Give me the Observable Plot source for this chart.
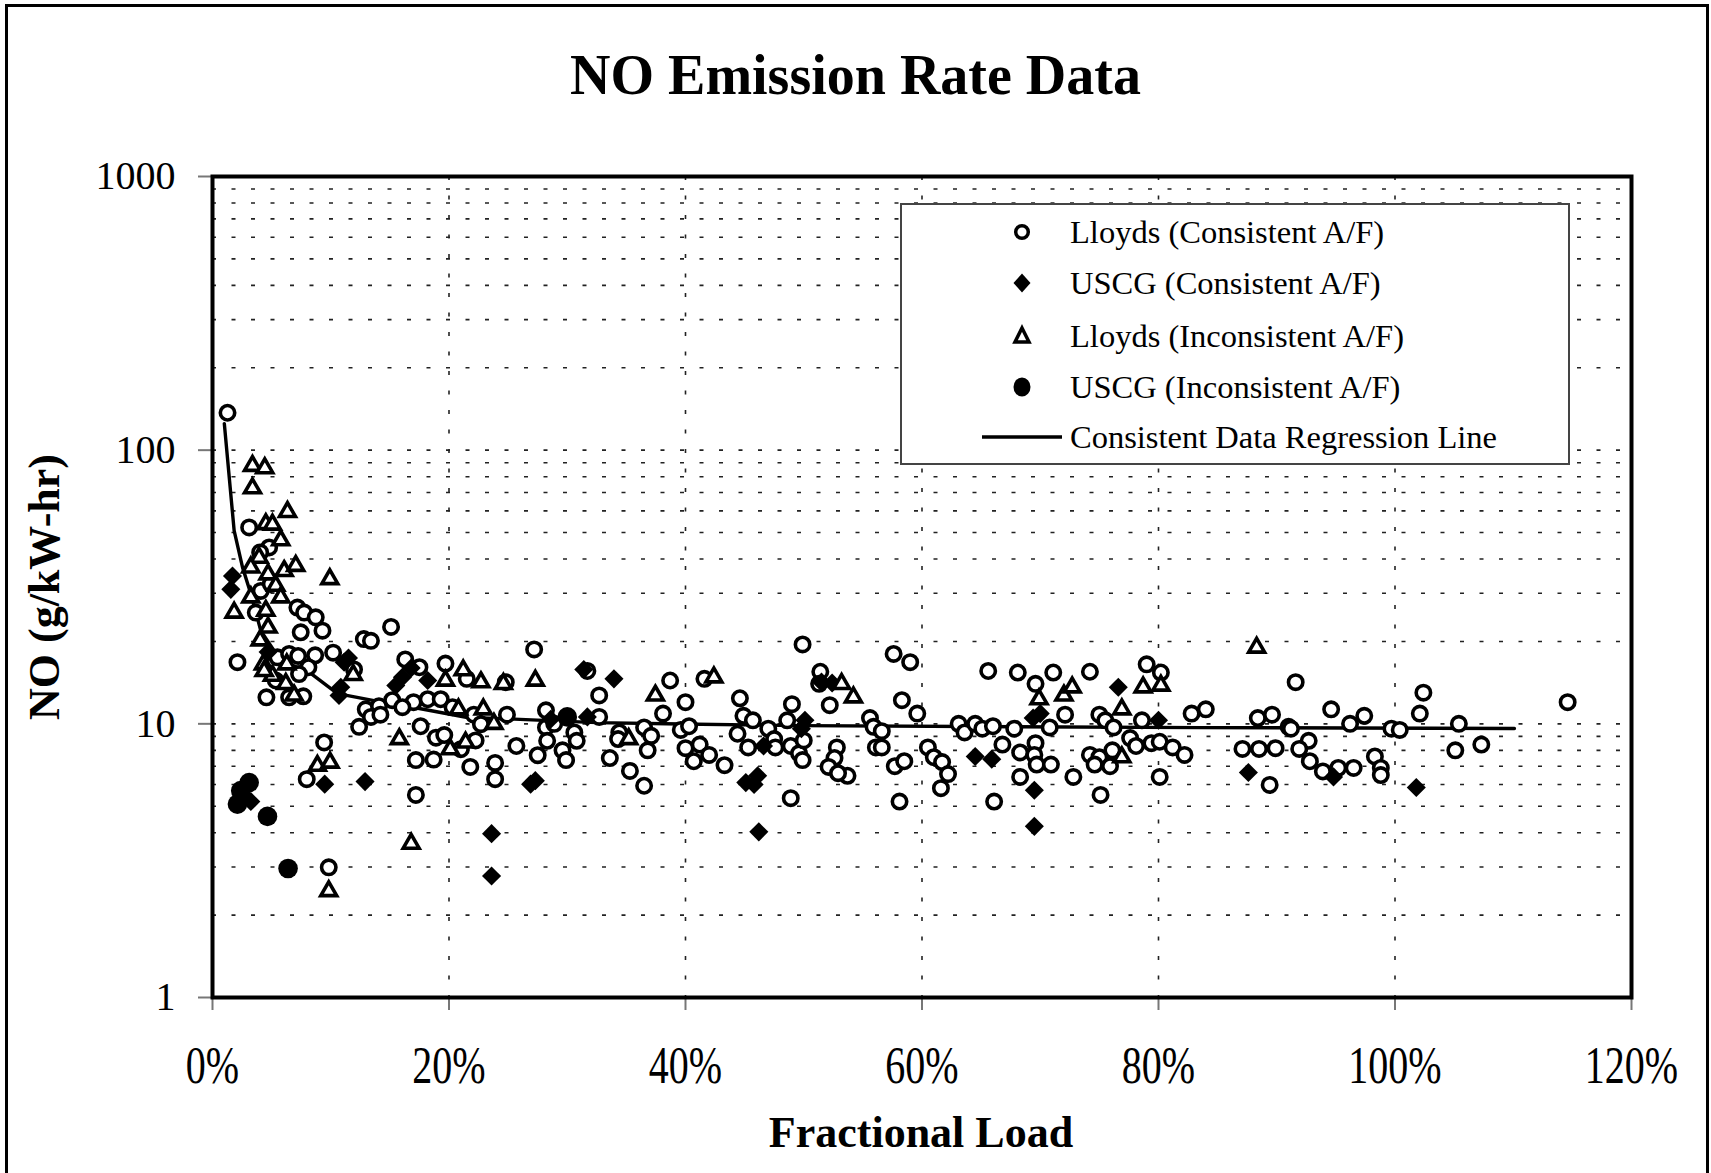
<!DOCTYPE html>
<html>
<head>
<meta charset="utf-8">
<script src="https://cdn.jsdelivr.net/npm/d3@7"></script>
<script src="https://cdn.jsdelivr.net/npm/@observablehq/plot@0.6"></script>
<style>
html, body { margin: 0; padding: 0; background: #fff; overflow: hidden; width: 1711px; height: 1173px; }
#frame { position: absolute; left: 5px; top: 4px; width: 1704px; height: 1220px; border: 3.5px solid #000; box-sizing: border-box; }
#title { position: absolute; left: 0; top: 47px; width: 1711px; text-align: center; font: bold 56px/57px "Liberation Serif", "Times New Roman", serif; color: #000; }
#chart { position: absolute; left: 0; top: 130px; }
#xlabel { position: absolute; left: 521px; top: 1111px; width: 800px; text-align: center; font: bold 44px/44px "Liberation Serif", "Times New Roman", serif; color: #000; }
#ylabel { position: absolute; left: -155px; top: 565px; width: 400px; height: 44px; text-align: center; font: bold 44px/44px "Liberation Serif", "Times New Roman", serif; color: #000; transform: rotate(-90deg); transform-origin: 50% 50%; }
#legend { position: absolute; left: 900px; top: 203px; width: 670px; height: 262px; box-sizing: border-box; border: 2px solid #444; background: #fff; }
#legend svg { position: absolute; left: -2px; top: -2px; }
</style>
</head>
<body>
<div id="frame"></div>
<div id="title">NO Emission Rate Data</div>
<div id="chart"></div>
<div id="xlabel">Fractional Load</div>
<div id="ylabel">NO (g/kW-hr)</div>
<div id="legend"></div>
<script>
// ---- Data: [fractional load (%), NO (g/kW-hr)] ----
const lloydsConsistent = [
  [1.27,137],[3.1,52.2],[4.79,44.1],[4.03,42.3],
  [4.08,30.6],[4.93,32.4],[3.66,25.5],[7.18,26.6],[7.75,25.5],[8.73,24.5],[9.3,21.9],[7.46,21.6],
  [12.8,20.4],[13.4,20.1],[15.1,22.6],[2.11,16.8],[5.49,17.5],[6.48,18.0],[7.24,17.7],[8.68,17.8],
  [8.11,16.1],[7.32,15.2],[5.35,14.4],[4.56,12.5],[6.48,12.5],[7.68,12.6],[10.2,18.2],[11.97,15.8],
  [12.96,11.3],[14.08,11.6],[13.4,10.6],[14.2,10.8],[12.4,9.75],[16.3,17.2],[17.5,16.1],[15.2,12.2],
  [17.0,12.0],[18.2,12.3],[19.3,12.3],[16.06,11.5],[19.7,16.6],[21.5,14.6],[24.8,14.2],[27.2,18.7],
  [20.3,11.5],[22.1,10.8],[22.7,9.97],[24.9,10.8],[17.6,9.8],[18.9,8.9],[19.6,9.1],[22.25,8.7],
  [21.0,8.08],[17.2,7.37],[18.7,7.4],[21.8,6.96],[23.9,7.2],[23.9,6.28],[25.7,8.3],[27.5,7.68],
  [28.2,11.2],[28.2,9.7],[28.3,8.67],[28.9,10.0],[29.6,8.0],[29.9,7.37],[30.6,9.3],[30.8,8.67],
  [31.7,15.6],[32.7,12.7],[32.7,10.6],[9.44,8.55],[7.97,6.28],[17.2,5.5],[9.83,2.99],
  [34.4,9.3],[34.3,8.8],[33.6,7.5],[35.3,6.73],[36.5,5.94],[36.5,9.7],[37.1,9.04],[36.8,8.0],
  [38.1,10.9],[38.7,14.4],[40.0,12.0],[39.6,9.5],[40.3,9.8],[40.0,8.15],[41.2,8.4],[40.7,7.3],
  [42.0,7.7],[43.3,7.06],[41.6,14.6],[44.6,12.4],[44.9,10.7],[45.7,10.3],[44.4,9.2],[45.3,8.2],
  [47.0,9.6],[47.5,8.8],[47.6,8.2],[48.9,5.35],[49.0,11.8],[48.6,10.3],[48.9,8.3],[49.6,7.8],
  [49.9,7.37],[50.0,8.7],[49.9,19.5],[51.4,15.5],[51.3,14.0],[52.2,11.7],[52.8,8.2],[52.6,7.5],
  [52.1,6.96],[53.7,6.46],[52.9,6.6],[55.6,10.5],[55.9,9.75],[56.6,9.4],[56.1,8.2],[56.6,8.2],
  [57.7,7.0],[58.5,7.3],[58.1,5.2],[57.6,18.0],[59.0,16.8],[58.3,12.2],[59.6,10.9],[60.5,8.2],
  [61.0,7.55],[61.7,7.25],[62.2,6.55],[61.6,5.82],[63.1,10.0],[63.6,9.3],[64.5,10.0],[65.1,9.6],
  [66.0,9.8],[65.6,15.6],[66.8,8.4],[66.1,5.2],[67.8,9.6],[68.1,15.4],[68.3,7.86],[68.3,6.4],
  [69.6,14.0],[69.6,8.5],[69.5,7.7],[69.7,7.1],[70.9,7.1],[70.8,9.7],[71.1,15.4],[72.1,10.8],
  [72.8,6.4],[74.2,15.5],[75.0,10.8],[75.5,10.3],[76.2,9.7],[74.2,7.7],[75.0,7.55],[74.6,7.1],
  [75.9,7.0],[76.1,8.0],[75.1,5.5],[77.6,8.87],[78.1,8.3],[78.6,10.3],[79.0,16.5],[79.4,8.5],
  [80.1,8.6],[80.1,6.4],[80.2,15.4],[81.2,8.2],[82.2,7.7],[82.8,10.9],
  [84.0,11.3],[91.6,14.2],[88.4,10.5],[89.6,10.8],[87.1,8.1],[88.5,8.1],[89.9,8.15],[89.4,5.98],
  [91.0,9.75],[91.2,9.6],[92.7,8.67],[91.9,8.1],[92.8,7.3],[93.9,6.7],[95.2,6.9],[96.5,6.9],
  [94.6,11.3],[96.2,10.0],[97.4,10.7],[98.3,7.6],[98.8,6.9],[98.8,6.5],[99.7,9.6],[100.4,9.5],
  [102.1,10.9],[102.4,13.0],[105.4,10.0],[105.1,8.0],[107.3,8.4],[114.6,12.0]
];
const uscgConsistent = [
  [1.69,34.7],[1.55,31.0],[3.24,5.2],[4.7,18.3],[11.13,16.8],[11.5,17.4],[10.85,13.6],[10.7,12.7],
  [16.06,14.8],[15.5,13.8],[16.8,16.0],[18.2,14.4],[9.49,6.02],[12.9,6.15],[23.6,3.97],[23.6,2.78],
  [26.9,6.02],[27.3,6.2],[28.6,10.4],[31.7,10.6],[31.4,15.8],[33.95,14.6],[46.6,8.3],[45.1,6.1],
  [46.1,6.46],[45.8,6.0],[46.2,4.03],[50.1,10.3],[49.8,9.6],[51.5,14.2],[52.4,14.1],[64.5,7.6],
  [65.9,7.43],[69.4,10.5],[70.0,10.9],[69.5,5.72],[69.5,4.22],[76.6,13.6],[80.0,10.3],[87.6,6.64],
  [94.8,6.4],[101.8,5.85]
];
const lloydsInconsistent = [
  [3.38,87.7],[4.42,86],[3.38,72.6],[6.34,59.5],[4.51,53.7],[5.07,53.5],[5.77,46.9],[3.94,40.5],
  [3.24,37.3],[4.7,35.2],[6.06,36.2],[7.04,37.8],[5.35,32],[3.24,29],[5.77,29],[9.92,33.8],
  [1.83,25.5],[4.51,25.9],[4.7,22.5],[4.03,20.2],[4.31,16.5],[6.28,16.5],[5.07,15.0],[4.37,15.6],
  [6.2,14.0],[6.9,12.7],[11.9,15.1],[8.87,7.03],[9.94,7.22],[9.83,2.45],[16.8,3.65],[15.8,8.8],
  [19.7,14.4],[21.2,15.7],[22.7,14.2],[24.6,14.0],[27.3,14.4],[20.8,11.3],[22.9,11.3],[23.8,10.0],
  [21.4,8.55],[20.1,8.08],[35.2,8.8],[37.45,12.7],[42.4,14.8],[53.2,14.0],[54.2,12.5],[69.9,12.3],
  [72.0,12.7],[72.7,13.6],[76.9,11.3],[76.9,7.55],[78.7,13.6],[80.2,13.8],[88.3,19.0]
];
const uscgInconsistent = [
  [3.1,6.1],[2.39,5.7],[2.11,5.09],[4.65,4.59],[6.39,2.96],[30.0,10.6]
];
const regressionLoad = [1.0, 1.83, 2.54, 3.24, 4.08, 5.77, 8.03, 10.57, 13.66, 17.04, 21.56, 25.5, 32.5, 39.6, 49.7, 83.6, 110.1];
const regressionNO   = [125, 50.8, 37.3, 29.9, 21.9, 17.0, 15.6, 12.9, 12.15, 11.47, 10.55, 10.4, 10.1, 9.99, 9.85, 9.69, 9.61];

const xTicks = [0, 20, 40, 60, 80, 100, 120];
const yTicks = [1, 10, 100, 1000];
const xGrid = [20, 40, 60, 80, 100];
const yGrid = [2,3,4,5,6,7,8,9,10,20,30,40,50,60,70,80,90,100,200,300,400,500,600,700,800,900];

const legendItems = [
  "Lloyds (Consistent A/F)",
  "USCG (Consistent A/F)",
  "Lloyds (Inconsistent A/F)",
  "USCG (Inconsistent A/F)",
  "Consistent Data Regression Line"
];

const toRows = arr => arr.map(([load, no]) => ({load, no}));
const regression = regressionLoad.map((load, i) => ({load, no: regressionNO[i]}));

const chart = Plot.plot({
  width: 1711,
  height: 1043,
  marginLeft: 212,
  marginRight: 80,
  marginTop: 46,
  marginBottom: 176,
  style: {fontFamily: "'Liberation Serif','Times New Roman',serif", fontSize: "40px", color: "#000", background: "transparent"},
  x: {domain: [0, 120], ticks: xTicks, tickFormat: d => d + "%", tickSize: 13, tickPadding: 44, label: null},
  y: {type: "log", domain: [1, 1000], ticks: yTicks, tickFormat: d => String(d), tickSize: 14, tickPadding: 23, label: null},
  marks: [
    Plot.ruleY(yGrid, {stroke: "#222", strokeWidth: 1.6, strokeDasharray: "4,15.5"}),
    Plot.ruleX(xGrid, {stroke: "#222", strokeWidth: 1.6, strokeDasharray: "4,15.5"}),
    Plot.line(regression, {x: "load", y: "no", stroke: "#000", strokeWidth: 3.4}),
    Plot.dot(toRows(lloydsConsistent), {x: "load", y: "no", symbol: "circle", r: 7.2, fill: "#fff", stroke: "#000", strokeWidth: 3.6}),
    Plot.dot(toRows(uscgConsistent), {x: "load", y: "no", symbol: "diamond2", r: 8.6, fill: "#000"}),
    Plot.dot(toRows(lloydsInconsistent), {x: "load", y: "no", symbol: "triangle", r: 5.9, fill: "#fff", stroke: "#000", strokeWidth: 3.6}),
    Plot.dot(toRows(uscgInconsistent), {x: "load", y: "no", symbol: "circle", r: 9.8, fill: "#000"}),
    Plot.frame({stroke: "#000", strokeWidth: 4})
  ]
});
document.getElementById("chart").appendChild(chart);

// axis tick line colour
chart.querySelectorAll('g[aria-label^="x-axis"] line, g[aria-label^="y-axis"] line, g[aria-label^="x-axis"] path, g[aria-label^="y-axis"] path').forEach(el => {
  el.setAttribute("stroke", "#777");
  el.setAttribute("stroke-width", "2");
});
// x tick labels are drawn tall in the reference: stretch vertically about the baseline
chart.querySelectorAll('g[aria-label^="x-axis"] text').forEach(t => {
  const b = t.getBBox();
  const base = b.y + b.height - 0.216 * 40;
  const tr = t.getAttribute("transform") || "";
  t.setAttribute("transform", `${tr} translate(0,${base}) scale(1,1.3) translate(0,${-base})`);
});

// legend
const ns = "http://www.w3.org/2000/svg";
const lg = d3.select("#legend").append("svg").attr("xmlns", ns).attr("width", 670).attr("height", 262);
const rowsY = [29, 80, 133, 184, 234];
const sx = 122;
lg.append("circle").attr("cx", sx).attr("cy", rowsY[0]).attr("r", 6.3).attr("fill", "#fff").attr("stroke", "#000").attr("stroke-width", 3.5);
lg.append("path").attr("d", `M${sx},${rowsY[1]-9.5}L${sx+8.5},${rowsY[1]}L${sx},${rowsY[1]+9.5}L${sx-8.5},${rowsY[1]}Z`).attr("fill", "#000");
lg.append("path").attr("d", `M${sx},${rowsY[2]-8}L${sx+7},${rowsY[2]+6}L${sx-7},${rowsY[2]+6}Z`).attr("fill", "#fff").attr("stroke", "#000").attr("stroke-width", 3.5);
lg.append("ellipse").attr("cx", sx).attr("cy", rowsY[3]).attr("rx", 8.5).attr("ry", 9.5).attr("fill", "#000");
lg.append("line").attr("x1", 82).attr("x2", 162).attr("y1", rowsY[4]).attr("y2", rowsY[4]).attr("stroke", "#000").attr("stroke-width", 3.4);
lg.selectAll("text.item").data(legendItems).join("text")
  .attr("class", "item")
  .attr("x", 170)
  .attr("y", (d, i) => rowsY[i] + 10.5)
  .attr("font-family", "'Liberation Serif','Times New Roman',serif")
  .attr("font-size", 32.5)
  .attr("fill", "#000")
  .text(d => d);
</script>
</body>
</html>
